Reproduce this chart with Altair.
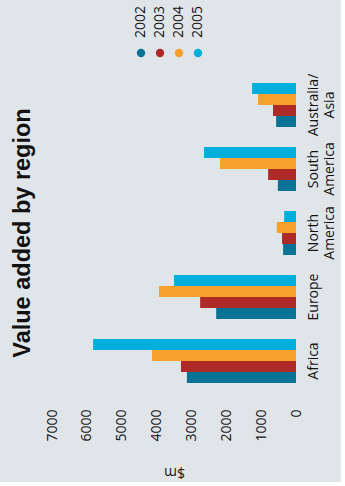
import altair as alt
import pandas as pd

regions = ["Africa", "Europe", "North America", "South America", "Australia/Asia"]
years = ["2002", "2003", "2004", "2005"]
v2002 = [3130, 2290, 370, 520, 570]
v2003 = [3300, 2750, 400, 800, 660]
v2004 = [4130, 3930, 550, 2180, 1090]
v2005 = [5820, 3500, 340, 2640, 1260]
colors = ["#0a7294", "#ae2a27", "#f8a02c", "#00afdc"]
tick_values = [0, 1000, 2000, 3000, 4000, 5000, 6000, 7000]

rows = []
for i, r in enumerate(regions):
    for y, vals in zip(years, [v2002, v2003, v2004, v2005]):
        rows.append({"Region": r, "Year": y, "Value": vals[i]})
df = pd.DataFrame(rows)

FONT = "Open Sans"
TXT = "#111111"
BG = "#e0e5ea"
color_scale = alt.Scale(domain=years, range=colors)

bars = alt.Chart(df).mark_bar().encode(
    x=alt.X(
        "Value:Q",
        scale=alt.Scale(domain=[0, 7000], reverse=True, nice=False),
        axis=alt.Axis(
            values=tick_values, format="d", labelAngle=270, labelAlign="right",
            labelBaseline="middle", labelPadding=16, ticks=False, domain=False, grid=False,
            title="$m", titleAngle=180, titleBaseline="bottom", titlePadding=23,
            labelFontSize=14, titleFontSize=14, titleFontWeight="normal",
            labelFont=FONT, titleFont=FONT, labelColor=TXT, titleColor=TXT,
        ),
    ),
    y=alt.Y(
        "Region:N",
        sort=regions[::-1],
        scale=alt.Scale(paddingInner=0.3125, paddingOuter=0.15625),
        axis=alt.Axis(
            orient="right", labelAngle=270, labelAlign="center", labelBaseline="top",
            labelPadding=10, labelExpr="split(replace(datum.label, '/', '/ '), ' ')",
            labelLineHeight=16, ticks=False, domain=False, grid=False, title=None,
            labelFontSize=14, labelFont=FONT, labelColor=TXT,
        ),
    ),
    yOffset=alt.YOffset("Year:N", sort=years[::-1]),
    color=alt.Color("Year:N", scale=color_scale, legend=None),
).properties(
    width=244,
    height=320,
    title=alt.TitleParams(
        "Value added by region", orient="left", anchor="middle", frame="group",
        fontSize=23.5, font="Liberation Sans", fontWeight="bold", color=TXT, offset=11,
    ),
)

leg_df = pd.DataFrame({"Year": years})
leg_x = alt.X("Year:N", scale=alt.Scale(domain=years, range=[89, 146], padding=0), axis=None)
leg_pts = alt.Chart(leg_df).mark_circle(size=70, opacity=1).encode(
    x=leg_x, color=alt.Color("Year:N", scale=color_scale, legend=None)
)
leg_txt = alt.Chart(leg_df).mark_text(
    angle=270, align="left", baseline="middle", dx=15, fontSize=14, font=FONT, color=TXT
).encode(x=leg_x, text="Year:N")
legend = alt.layer(leg_pts, leg_txt).properties(width=244, height=10)

chart = alt.vconcat(legend, bars, spacing=15).properties(
    background=BG,
    padding={"left": 10, "top": 5, "right": 5, "bottom": 3},
).configure_view(stroke=None)

chart.save("out.html", embed_options={"renderer": "svg", "actions": False})
